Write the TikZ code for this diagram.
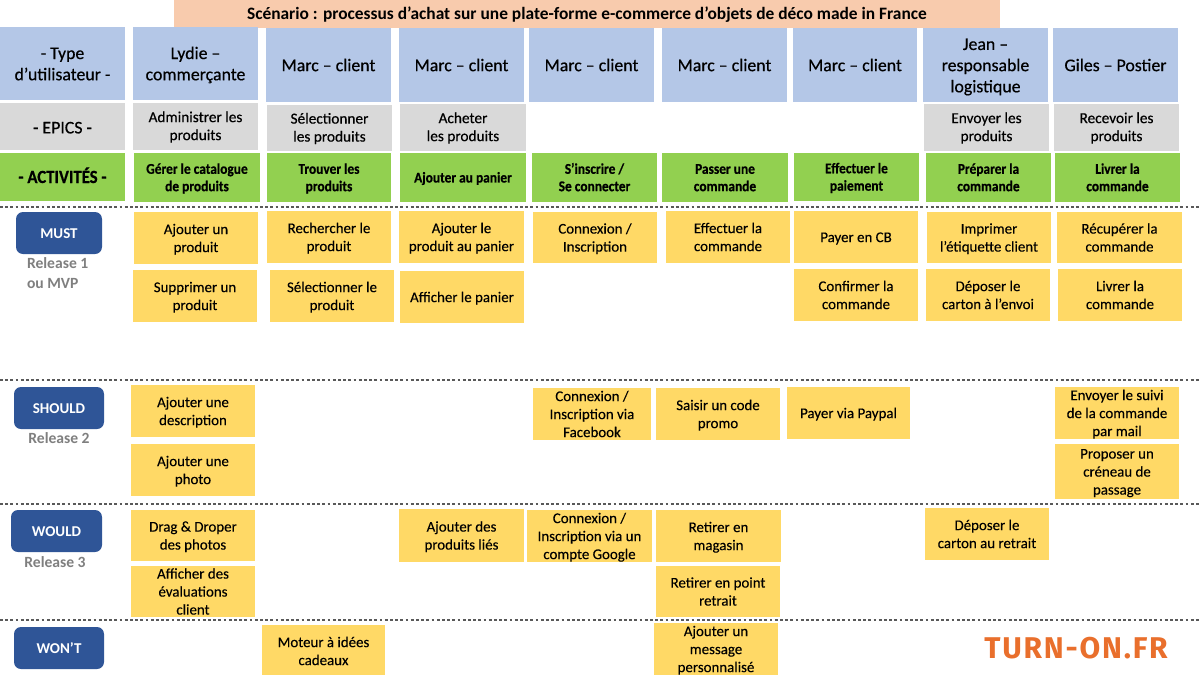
\documentclass[tikz,border=0pt]{standalone}
\usepackage{fontspec}
\setmainfont{Carlito}
\newfontfamily\medfont[RawFeature={embolden=0.45}]{Carlito}
\newfontfamily\lightfont[RawFeature={embolden=0.15}]{Carlito}
\newfontfamily\heavyfont[FakeStretch=0.9,RawFeature={embolden=0.5}]{Carlito}
\newfontfamily\logofont[LetterSpace=6]{Fira Sans}
\usetikzlibrary{calc}
\newcommand{\tsh}{0pt}
\tikzset{
  x=0.5pt,y=-0.5pt,
  base/.style={inner sep=0pt,outer sep=0pt,align=center,text=black},
  titlebox/.style={base,fill=titlecol,font=\fontsize{8.7}{9.5}\selectfont\bfseries\renewcommand{\tsh}{6pt}},
  userbox/.style={base,fill=usercol,font=\fontsize{8.9}{10.6}\medfont\renewcommand{\tsh}{6.4pt}},
  epicbox/.style={base,fill=epiccol,font=\fontsize{7.65}{9}\medfont\renewcommand{\tsh}{5pt}},
  epichead/.style={base,fill=epiccol,font=\fontsize{8.9}{11}\medfont\renewcommand{\tsh}{7pt}},
  actbox/.style={base,fill=actcol,font=\fontsize{7.45}{8.7}\heavyfont\bfseries\renewcommand{\tsh}{5pt}},
  acthead/.style={base,fill=actcol,font=\fontsize{9.3}{11}\heavyfont\bfseries\renewcommand{\tsh}{6pt}},
  card/.style={base,fill=cardcol,font=\fontsize{7.45}{9}\lightfont\renewcommand{\tsh}{5pt}},
  prio/.style={base,fill=priocol,text=white,rounded corners=3.5pt,font=\fontsize{7.5}{9}\selectfont\bfseries\renewcommand{\tsh}{5pt}},
  rel/.style={base,text=relcol,font=\fontsize{7.8}{9.6}\selectfont\bfseries},
  sep/.style={draw=sepcol,line width=1.2pt,dash pattern=on 1.4pt off 1.2pt},
  logo/.style={base,text=logocol,font=\fontsize{15}{15}\logofont\bfseries},
}
\definecolor{titlecol}{HTML}{F8CBAD}
\definecolor{usercol}{HTML}{B4C7E7}
\definecolor{epiccol}{HTML}{D9D9D9}
\definecolor{actcol}{HTML}{92D050}
\definecolor{cardcol}{HTML}{FFD966}
\definecolor{priocol}{HTML}{2F5597}
\definecolor{relcol}{HTML}{7F7F7F}
\definecolor{sepcol}{HTML}{595959}
\definecolor{logocol}{HTML}{E96F2C}
\newcommand{\bx}[7]{% name, style, x0,y0,x1,y1, text
  \node[#2,minimum width={(#5-#3)*0.5pt},minimum height={(#6-#4)*0.5pt},anchor=north west] (#1) at (#3,#4) {\setbox0=\hbox{\begin{tabular}{@{}c@{}}#7\end{tabular}}\raisebox{\dimexpr(\dp0-\ht0)/2-\tsh/2\relax}[2pt][2pt]{\box0}};}
\begin{document}
\begin{tikzpicture}
\useasboundingbox (0,0) rectangle (1200,675);
\bx{title}{titlebox}{174}{0}{1000}{28}{Scénario : processus d’achat sur une plate-forme e-commerce d’objets de déco made in France}
% users
\bx{u0}{userbox}{0}{27}{125}{100}{- Type\\d’utilisateur -}
\bx{u1}{userbox}{133}{27}{258}{100}{Lydie –\\commerçante}
\bx{u2}{userbox}{266}{28}{391}{102}{Marc – client}
\bx{u3}{userbox}{399}{28}{524}{102}{Marc – client}
\bx{u4}{userbox}{529}{28}{654}{102}{Marc – client}
\bx{u5}{userbox}{662}{28}{787}{102}{Marc – client}
\bx{u6}{userbox}{793}{28}{917}{102}{Marc – client}
\bx{u7}{userbox}{923}{28}{1048}{102}{Jean –\\responsable\\logistique}
\bx{u8}{userbox}{1053}{28}{1178}{102}{Giles – Postier}
% epics
\bx{e0}{epichead}{0}{103}{125}{150}{- EPICS -}
\bx{e1}{epicbox}{133}{103}{258}{150}{Administrer les\\produits}
\bx{e2}{epicbox}{267}{105}{392}{151}{Sélectionner\\les produits}
\bx{e3}{epicbox}{400}{104}{526}{151}{Acheter\\les produits}
\bx{e7}{epicbox}{924}{104}{1049}{151}{Envoyer les\\produits}
\bx{e8}{epicbox}{1054}{104}{1179}{151}{Recevoir les\\produits}
% activities
\bx{a0}{acthead}{0}{153}{125}{201}{- ACTIVITÉS -}
\bx{a1}{actbox}{134}{153}{260}{202}{Gérer le catalogue\\de produits}
\bx{a2}{actbox}{267}{153}{391}{202}{Trouver les\\produits}
\bx{a3}{actbox}{400}{153}{526}{202}{Ajouter au panier}
\bx{a4}{actbox}{532}{153}{657}{202}{S’inscrire /\\Se connecter}
\bx{a5}{actbox}{662}{153}{788}{202}{Passer une\\commande}
\bx{a6}{actbox}{794}{153}{919}{201}{Effectuer le\\paiement}
\bx{a7}{actbox}{926}{153}{1051}{202}{Préparer la\\commande}
\bx{a8}{actbox}{1055}{153}{1180}{202}{Livrer la\\commande}
% separators
\coordinate (s1a) at (0,207); \coordinate (s1b) at (1200,207);
\coordinate (s2a) at (0,380); \coordinate (s2b) at (1200,380);
\coordinate (s3a) at (0,504); \coordinate (s3b) at (1200,504);
\coordinate (s4a) at (0,620); \coordinate (s4b) at (1200,620);
\draw[sep] (s1a) -- (s1b);
\draw[sep] (s2a) -- (s2b);
\draw[sep] (s3a) -- (s3b);
\draw[sep] (s4a) -- (s4b);
% priorities
\bx{p1}{prio}{16}{212}{102}{254}{MUST}
\node[rel,align=left,anchor=north west] (r1) at (27,258) {Release 1\\ou MVP};
\bx{p2}{prio}{14}{387}{104}{429}{SHOULD}
\node[rel,anchor=north] (r2) at (59,433) {Release 2};
\bx{p3}{prio}{11}{510}{102}{552}{WOULD}
\node[rel,anchor=north] (r3) at (55,557) {Release 3};
\bx{p4}{prio}{14}{627}{104}{669}{WON’T}
% must
\bx{c11}{card}{134}{212}{258}{264}{Ajouter un\\produit}
\bx{c12}{card}{133}{270}{257}{322}{Supprimer un\\produit}
\bx{c13}{card}{267}{211}{391}{263}{Rechercher le\\produit}
\bx{c14}{card}{270}{270}{394}{322}{Sélectionner le\\produit}
\bx{c15}{card}{399}{211}{524}{263}{Ajouter le\\produit au panier}
\bx{c16}{card}{400}{271}{524}{323}{Afficher le panier}
\bx{c17}{card}{533}{212}{657}{263}{Connexion /\\Inscription}
\bx{c18}{card}{666}{211}{790}{263}{Effectuer la\\commande}
\bx{c19}{card}{794}{211}{918}{263}{Payer en CB}
\bx{c110}{card}{794}{269}{918}{321}{Confirmer la\\commande}
\bx{c111}{card}{927}{212}{1051}{263}{Imprimer\\l’étiquette client}
\bx{c112}{card}{926}{269}{1050}{321}{Déposer le\\carton à l’envoi}
\bx{c113}{card}{1057}{212}{1182}{263}{Récupérer la\\commande}
\bx{c114}{card}{1058}{269}{1182}{321}{Livrer la\\commande}
% should
\bx{c21}{card}{131}{385}{255}{437}{Ajouter une\\description}
\bx{c22}{card}{131}{444}{255}{496}{Ajouter une\\photo}
\bx{c23}{card}{533}{388}{651}{440}{Connexion /\\Inscription via\\Facebook}
\bx{c24}{card}{656}{388}{780}{440}{Saisir un code\\promo}
\bx{c25}{card}{787}{387}{910}{439}{Payer via Paypal}
\bx{c26}{card}{1055}{387}{1179}{439}{Envoyer le suivi\\de la commande\\par mail}
\bx{c27}{card}{1055}{444}{1179}{499}{Proposer un\\créneau de\\passage}
% would
\bx{c31}{card}{131}{510}{255}{561}{Drag \& Droper\\des photos}
\bx{c32}{card}{131}{566}{255}{617}{Afficher des\\évaluations\\client}
\bx{c33}{card}{399}{509}{524}{562}{Ajouter des\\produits liés}
\bx{c34}{card}{527}{510}{652}{562}{Connexion /\\Inscription via un\\compte Google}
\bx{c35}{card}{656}{510}{781}{562}{Retirer en\\magasin}
\bx{c36}{card}{656}{566}{780}{617}{Retirer en point\\retrait}
\bx{c37}{card}{925}{508}{1049}{560}{Déposer le\\carton au retrait}
% wont
\bx{c41}{card}{262}{625}{385}{677}{Moteur à idées\\cadeaux}
\bx{c42}{card}{654}{623}{778}{675}{Ajouter un\\message\\personnalisé}
% logo
\node[logo] (logo) at (1076,648) {TURN-ON.FR};
\end{tikzpicture}
\end{document}
